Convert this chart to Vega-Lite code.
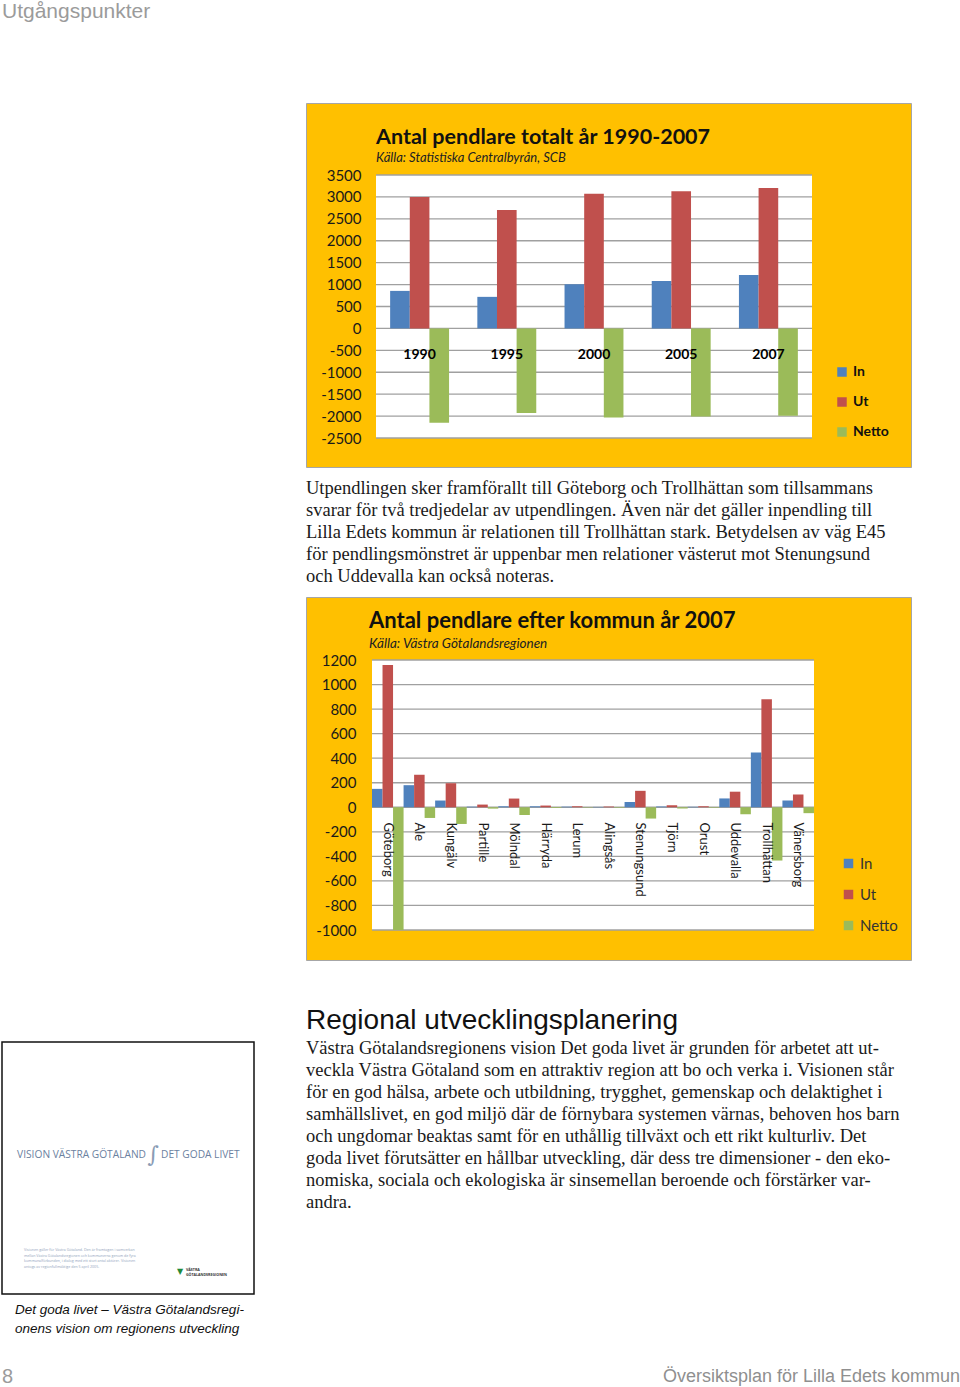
{
  "$schema": "https://vega.github.io/schema/vega-lite/v6.json",
  "background": "white",
  "padding": {"left": 1, "top": 0, "right": 0, "bottom": 0},
  "spacing": 0,
  "config": {"view": {"stroke": null}, "concat": {"spacing": 0}},
  "resolve": {"scale": {"color": "independent", "xOffset": "independent"}, "legend": {"color": "independent"}},
  "hconcat": [
    {
      "spacing": 0,
      "vconcat": [
        {
          "width": 303, "height": 24,
          "data": {"values": [{"line": 0, "text": "Utgångspunkter"}]},
          "mark": {"type": "text", "align": "left", "baseline": "middle", "font": "Liberation Sans", "fontSize": 21, "color": "#9b9b9b"},
          "encoding": {
            "y": {"field": "line", "type": "ordinal", "axis": null, "scale": {"type": "point", "padding": 0.5}},
            "x": {"datum": 0, "type": "quantitative", "scale": {"domain": [0, 1]}, "axis": null},
            "text": {"field": "text"}
          }
        },
        {"width": 303, "height": 1017, "data": {"values": []}, "mark": "text", "encoding": {"text": {"value": ""}}},
        {
          "width": 252, "height": 252,
          "view": {"stroke": "#111111", "strokeWidth": 1.5, "fill": "white"},
          "layer": [
            {
              "data": {"values": [{"text": "VISION VÄSTRA GÖTALAND"}]},
              "mark": {"type": "text", "align": "right", "baseline": "middle", "dx": 18, "dy": -13, "font": "Open Sans", "fontSize": 10.2, "color": "#6b81a0"},
              "encoding": {"text": {"field": "text"}}
            },
            {
              "data": {"values": [{"text": "DET GODA LIVET"}]},
              "mark": {"type": "text", "align": "left", "baseline": "middle", "dx": 33, "dy": -13, "font": "Open Sans", "fontSize": 10.2, "color": "#6b81a0"},
              "encoding": {"text": {"field": "text"}}
            },
            {
              "data": {"values": [{"text": "∫"}]},
              "mark": {"type": "text", "align": "center", "baseline": "middle", "dx": 25, "dy": -13, "font": "DejaVu Serif", "fontSize": 22, "fontWeight": 200, "color": "#8a9cb5"},
              "encoding": {"text": {"field": "text"}}
            },
            {
              "data": {"values": [{"lines": ["Visionen gäller för Västra Götaland. Den är framtagen i samverkan", "mellan Västra Götalandsregionen och kommunerna genom de fyra", "kommunalförbunden, i dialog med ett stort antal aktörer. Visionen", "antogs av regionfullmäktige den 5 april 2005."]}]},
              "mark": {"type": "text", "align": "left", "baseline": "top", "dx": -104, "dy": 80, "font": "Open Sans", "fontSize": 3.6, "lineHeight": 5.5, "color": "#8fa2bb"},
              "encoding": {"text": {"field": "lines"}}
            },
            {
              "data": {"values": [{"text": "▼"}]},
              "mark": {"type": "text", "align": "left", "baseline": "middle", "dx": 49, "dy": 104, "font": "DejaVu Sans", "fontSize": 8, "color": "#1f8a3a"},
              "encoding": {"text": {"field": "text"}}
            },
            {
              "data": {"values": [{"lines": ["VÄSTRA", "GÖTALANDSREGIONEN"]}]},
              "mark": {"type": "text", "align": "left", "baseline": "top", "dx": 58, "dy": 100, "font": "Open Sans", "fontSize": 3.6, "fontWeight": "bold", "lineHeight": 4.5, "color": "#333333"},
              "encoding": {"text": {"field": "lines"}}
            }
          ]
        },
        {"width": 303, "height": 5, "data": {"values": []}, "mark": "text", "encoding": {"text": {"value": ""}}},
        {
          "width": 303, "height": 38,
          "data": {"values": [{"line": 0, "text": "Det goda livet – Västra Götalandsregi-"}, {"line": 1, "text": "onens vision om regionens utveckling"}]},
          "mark": {"type": "text", "align": "left", "baseline": "middle", "dx": 13, "font": "Liberation Sans", "fontSize": 13.5, "fontStyle": "italic", "color": "#111111"},
          "encoding": {
            "y": {"field": "line", "type": "ordinal", "axis": null, "scale": {"type": "point", "padding": 0.5}},
            "x": {"datum": 0, "type": "quantitative", "scale": {"domain": [0, 1]}, "axis": null},
            "text": {"field": "text"}
          }
        },
        {"width": 303, "height": 28, "data": {"values": []}, "mark": "text", "encoding": {"text": {"value": ""}}},
        {
          "width": 303, "height": 22,
          "data": {"values": [{"line": 0, "text": "8"}]},
          "mark": {"type": "text", "align": "left", "baseline": "middle", "font": "Liberation Sans", "fontSize": 20, "color": "#9b9b9b"},
          "encoding": {
            "y": {"field": "line", "type": "ordinal", "axis": null, "scale": {"type": "point", "padding": 0.5}},
            "x": {"datum": 0, "type": "quantitative", "scale": {"domain": [0, 1]}, "axis": null},
            "text": {"field": "text"}
          }
        }
      ]
    },
    {
      "spacing": 0,
      "resolve": {"scale": {"color": "independent", "xOffset": "independent"}, "legend": {"color": "independent"}},
      "vconcat": [
        {"width": 605, "height": 101.5, "data": {"values": []}, "mark": "text", "encoding": {"text": {"value": ""}}},
        {
          "width": 605, "height": 364,
          "view": {"fill": "#FFC000", "stroke": "#a6a6a6", "strokeWidth": 1},
          "title": {"text": "Antal pendlare totalt år 1990-2007", "subtitle": "Källa: Statistiska Centralbyrån, SCB", "anchor": "start", "frame": "group", "dx": 70, "offset": -62, "font": "Lato", "fontSize": 21.5, "fontWeight": "bold", "color": "#111111", "subtitleFont": "Lato", "subtitleFontSize": 13, "subtitleFontStyle": "italic", "subtitleColor": "#222222", "subtitlePadding": 4},
          "resolve": {"scale": {"x": "independent"}},
          "layer": [
            {
              "data": {"values": [{}]},
              "mark": {"type": "rect", "fill": "white"},
              "encoding": {
                "x": {"datum": 0, "type": "quantitative", "scale": {"domain": [0, 1], "range": [70, 506]}, "axis": null},
                "x2": {"datum": 1},
                "y": {"datum": -2500, "type": "quantitative", "scale": {"domain": [-2500, 3500], "range": [335, 72], "nice": false}, "axis": {"offset": -70, "values": [-2500, -2000, -1500, -1000, -500, 0, 500, 1000, 1500, 2000, 2500, 3000, 3500], "labelExpr": "'' + datum.value", "grid": false, "domain": false, "ticks": false, "labelPadding": 15, "labelFont": "Lato", "labelFontSize": 15, "labelColor": "#1a1a1a", "title": null}},
                "y2": {"datum": 3500}
              }
            },
            {
              "data": {"values": [{"v": -2500}, {"v": -2000}, {"v": -1500}, {"v": -1000}, {"v": -500}, {"v": 0}, {"v": 500}, {"v": 1000}, {"v": 1500}, {"v": 2000}, {"v": 2500}, {"v": 3000}, {"v": 3500}]},
              "mark": {"type": "rule", "color": "#a0a0a0", "strokeWidth": 1.3},
              "encoding": {
                "x": {"datum": 0, "type": "quantitative", "scale": {"domain": [0, 1], "range": [70, 506]}, "axis": null},
                "x2": {"datum": 1},
                "y": {"field": "v", "type": "quantitative", "scale": {"domain": [-2500, 3500], "range": [335, 72], "nice": false}, "axis": {"offset": -70, "values": [-2500, -2000, -1500, -1000, -500, 0, 500, 1000, 1500, 2000, 2500, 3000, 3500], "labelExpr": "'' + datum.value", "grid": false, "domain": false, "ticks": false, "labelPadding": 15, "labelFont": "Lato", "labelFontSize": 15, "labelColor": "#1a1a1a", "title": null}}
              }
            },
            {
              "data": {"values": [
                {"year": "1990", "series": "In", "value": 856}, {"year": "1990", "series": "Ut", "value": 3000}, {"year": "1990", "series": "Netto", "value": -2150},
                {"year": "1995", "series": "In", "value": 720}, {"year": "1995", "series": "Ut", "value": 2700}, {"year": "1995", "series": "Netto", "value": -1930},
                {"year": "2000", "series": "In", "value": 1008}, {"year": "2000", "series": "Ut", "value": 3070}, {"year": "2000", "series": "Netto", "value": -2030},
                {"year": "2005", "series": "In", "value": 1083}, {"year": "2005", "series": "Ut", "value": 3130}, {"year": "2005", "series": "Netto", "value": -2010},
                {"year": "2007", "series": "In", "value": 1220}, {"year": "2007", "series": "Ut", "value": 3205}, {"year": "2007", "series": "Netto", "value": -1990}
              ]},
              "mark": {"type": "bar"},
              "encoding": {
                "x": {"field": "year", "type": "nominal", "sort": null, "scale": {"range": [70, 506], "paddingInner": 0, "paddingOuter": 0}, "axis": {"orient": "bottom", "offset": -139, "domain": false, "ticks": false, "grid": false, "labelAngle": 0, "labelPadding": 19, "labelFont": "Lato", "labelFontSize": 14, "labelFontWeight": "bold", "labelColor": "#000000", "title": null, "zindex": 1}},
                "xOffset": {"field": "series", "type": "nominal", "sort": ["In", "Ut", "Netto"], "scale": {"range": [0, 87.2], "paddingInner": 0, "paddingOuter": 0.72}},
                "y": {"field": "value", "type": "quantitative", "scale": {"domain": [-2500, 3500], "range": [335, 72], "nice": false}, "axis": {"offset": -70, "values": [-2500, -2000, -1500, -1000, -500, 0, 500, 1000, 1500, 2000, 2500, 3000, 3500], "labelExpr": "'' + datum.value", "grid": false, "domain": false, "ticks": false, "labelPadding": 15, "labelFont": "Lato", "labelFontSize": 15, "labelColor": "#1a1a1a", "title": null}},
                "color": {"field": "series", "type": "nominal", "sort": ["In", "Ut", "Netto"], "scale": {"domain": ["In", "Ut", "Netto"], "range": ["#4F81BD", "#C0504D", "#9BBB59"]}, "legend": {"title": null, "orient": "none", "direction": "vertical", "legendX": 529, "legendY": 262, "symbolType": "square", "symbolSize": 90, "symbolStrokeWidth": 0, "labelFont": "Lato", "labelFontSize": 14, "labelFontWeight": "bold", "labelColor": "#111111", "rowPadding": 16, "labelOffset": 4, "padding": 0}}
              }
            }
          ]
        },
        {"width": 605, "height": 9, "data": {"values": []}, "mark": "text", "encoding": {"text": {"value": ""}}},
        {
          "width": 605, "height": 110,
          "data": {"values": [
            {"line": 0, "text": "Utpendlingen sker framförallt till Göteborg och Trollhättan som tillsammans"},
            {"line": 1, "text": "svarar för två tredjedelar av utpendlingen. Även när det gäller inpendling till"},
            {"line": 2, "text": "Lilla Edets kommun är relationen till Trollhättan stark. Betydelsen av väg E45"},
            {"line": 3, "text": "för pendlingsmönstret är uppenbar men relationer västerut mot Stenungsund"},
            {"line": 4, "text": "och Uddevalla kan också noteras."}
          ]},
          "mark": {"type": "text", "align": "left", "baseline": "middle", "font": "Liberation Serif", "fontSize": 18.5, "color": "#1a1a1a"},
          "encoding": {
            "y": {"field": "line", "type": "ordinal", "axis": null, "scale": {"type": "point", "padding": 0.5}},
            "x": {"datum": 0, "type": "quantitative", "scale": {"domain": [0, 1]}, "axis": null},
            "text": {"field": "text"}
          }
        },
        {"width": 605, "height": 9, "data": {"values": []}, "mark": "text", "encoding": {"text": {"value": ""}}},
        {
          "width": 605, "height": 363,
          "view": {"fill": "#FFC000", "stroke": "#a6a6a6", "strokeWidth": 1},
          "title": {"text": "Antal pendlare efter kommun år 2007", "subtitle": "Källa: Västra Götalandsregionen", "anchor": "start", "frame": "group", "dx": 63, "offset": -54, "font": "Lato", "fontSize": 22, "fontWeight": "bold", "color": "#111111", "subtitleFont": "Lato", "subtitleFontSize": 13.5, "subtitleFontStyle": "italic", "subtitleColor": "#222222", "subtitlePadding": 4},
          "resolve": {"scale": {"x": "independent"}},
          "layer": [
            {
              "data": {"values": [{}]},
              "mark": {"type": "rect", "fill": "white"},
              "encoding": {
                "x": {"datum": 0, "type": "quantitative", "scale": {"domain": [0, 1], "range": [66, 508]}, "axis": null},
                "x2": {"datum": 1},
                "y": {"datum": -1000, "type": "quantitative", "scale": {"domain": [-1000, 1200], "range": [333, 63], "nice": false}, "axis": {"offset": -66, "values": [-1000, -800, -600, -400, -200, 0, 200, 400, 600, 800, 1000, 1200], "labelExpr": "'' + datum.value", "grid": false, "domain": false, "ticks": false, "labelPadding": 16, "labelFont": "Lato", "labelFontSize": 15, "labelColor": "#1a1a1a", "title": null}},
                "y2": {"datum": 1200}
              }
            },
            {
              "data": {"values": [{"v": -1000}, {"v": -800}, {"v": -600}, {"v": -400}, {"v": -200}, {"v": 0}, {"v": 200}, {"v": 400}, {"v": 600}, {"v": 800}, {"v": 1000}, {"v": 1200}]},
              "mark": {"type": "rule", "color": "#a0a0a0", "strokeWidth": 1.3},
              "encoding": {
                "x": {"datum": 0, "type": "quantitative", "scale": {"domain": [0, 1], "range": [66, 508]}, "axis": null},
                "x2": {"datum": 1},
                "y": {"field": "v", "type": "quantitative", "scale": {"domain": [-1000, 1200], "range": [333, 63], "nice": false}, "axis": {"offset": -66, "values": [-1000, -800, -600, -400, -200, 0, 200, 400, 600, 800, 1000, 1200], "labelExpr": "'' + datum.value", "grid": false, "domain": false, "ticks": false, "labelPadding": 16, "labelFont": "Lato", "labelFontSize": 15, "labelColor": "#1a1a1a", "title": null}}
              }
            },
            {
              "data": {"values": [
                {"kommun": "Göteborg", "series": "In", "value": 150}, {"kommun": "Göteborg", "series": "Ut", "value": 1160}, {"kommun": "Göteborg", "series": "Netto", "value": -1000},
                {"kommun": "Ale", "series": "In", "value": 180}, {"kommun": "Ale", "series": "Ut", "value": 265}, {"kommun": "Ale", "series": "Netto", "value": -87},
                {"kommun": "Kungälv", "series": "In", "value": 55}, {"kommun": "Kungälv", "series": "Ut", "value": 196}, {"kommun": "Kungälv", "series": "Netto", "value": -136},
                {"kommun": "Partille", "series": "In", "value": 5}, {"kommun": "Partille", "series": "Ut", "value": 22}, {"kommun": "Partille", "series": "Netto", "value": -11},
                {"kommun": "Mölndal", "series": "In", "value": 8}, {"kommun": "Mölndal", "series": "Ut", "value": 71}, {"kommun": "Mölndal", "series": "Netto", "value": -63},
                {"kommun": "Härryda", "series": "In", "value": 8}, {"kommun": "Härryda", "series": "Ut", "value": 14}, {"kommun": "Härryda", "series": "Netto", "value": -6},
                {"kommun": "Lerum", "series": "In", "value": 5}, {"kommun": "Lerum", "series": "Ut", "value": 8}, {"kommun": "Lerum", "series": "Netto", "value": -3},
                {"kommun": "Alingsås", "series": "In", "value": 3}, {"kommun": "Alingsås", "series": "Ut", "value": 6}, {"kommun": "Alingsås", "series": "Netto", "value": -3},
                {"kommun": "Stenungsund", "series": "In", "value": 42}, {"kommun": "Stenungsund", "series": "Ut", "value": 134}, {"kommun": "Stenungsund", "series": "Netto", "value": -92},
                {"kommun": "Tjörn", "series": "In", "value": 6}, {"kommun": "Tjörn", "series": "Ut", "value": 16}, {"kommun": "Tjörn", "series": "Netto", "value": -10},
                {"kommun": "Orust", "series": "In", "value": 4}, {"kommun": "Orust", "series": "Ut", "value": 8}, {"kommun": "Orust", "series": "Netto", "value": -4},
                {"kommun": "Uddevalla", "series": "In", "value": 72}, {"kommun": "Uddevalla", "series": "Ut", "value": 127}, {"kommun": "Uddevalla", "series": "Netto", "value": -57},
                {"kommun": "Trollhättan", "series": "In", "value": 447}, {"kommun": "Trollhättan", "series": "Ut", "value": 881}, {"kommun": "Trollhättan", "series": "Netto", "value": -434},
                {"kommun": "Vänersborg", "series": "In", "value": 55}, {"kommun": "Vänersborg", "series": "Ut", "value": 105}, {"kommun": "Vänersborg", "series": "Netto", "value": -48}
              ]},
              "mark": {"type": "bar"},
              "encoding": {
                "x": {"field": "kommun", "type": "nominal", "sort": null, "scale": {"range": [66, 508], "paddingInner": 0, "paddingOuter": 0}, "axis": {"orient": "bottom", "offset": -153, "domain": false, "ticks": false, "grid": false, "labelAngle": 90, "labelAlign": "left", "labelBaseline": "middle", "labelPadding": 15, "labelOverlap": false, "labelLimit": 200, "labelFont": "Lato", "labelFontSize": 13, "labelColor": "#1a1a1a", "title": null, "zindex": 1}},
                "xOffset": {"field": "series", "type": "nominal", "sort": ["In", "Ut", "Netto"], "scale": {"range": [0, 31.571], "paddingInner": 0, "paddingOuter": 0}},
                "y": {"field": "value", "type": "quantitative", "scale": {"domain": [-1000, 1200], "range": [333, 63], "nice": false}, "axis": {"offset": -66, "values": [-1000, -800, -600, -400, -200, 0, 200, 400, 600, 800, 1000, 1200], "labelExpr": "'' + datum.value", "grid": false, "domain": false, "ticks": false, "labelPadding": 16, "labelFont": "Lato", "labelFontSize": 15, "labelColor": "#1a1a1a", "title": null}},
                "color": {"field": "series", "type": "nominal", "sort": ["In", "Ut", "Netto"], "scale": {"domain": ["In", "Ut", "Netto"], "range": ["#4F81BD", "#C0504D", "#9BBB59"]}, "legend": {"title": null, "orient": "none", "direction": "vertical", "legendX": 535, "legendY": 259, "symbolType": "square", "symbolSize": 90, "symbolStrokeWidth": 0, "labelFont": "Lato", "labelFontSize": 15, "labelColor": "#333333", "rowPadding": 15, "labelOffset": 4, "padding": 0}}
              }
            }
          ]
        },
        {"width": 605, "height": 45, "data": {"values": []}, "mark": "text", "encoding": {"text": {"value": ""}}},
        {
          "width": 605, "height": 30,
          "data": {"values": [{"line": 0, "text": "Regional utvecklingsplanering"}]},
          "mark": {"type": "text", "align": "left", "baseline": "middle", "font": "Liberation Sans", "fontSize": 28, "color": "#111111"},
          "encoding": {
            "y": {"field": "line", "type": "ordinal", "axis": null, "scale": {"type": "point", "padding": 0.5}},
            "x": {"datum": 0, "type": "quantitative", "scale": {"domain": [0, 1]}, "axis": null},
            "text": {"field": "text"}
          }
        },
        {"width": 605, "height": 0.5, "data": {"values": []}, "mark": "text", "encoding": {"text": {"value": ""}}},
        {
          "width": 605, "height": 176,
          "data": {"values": [
            {"line": 0, "text": "Västra Götalandsregionens vision Det goda livet är grunden för arbetet att ut-"},
            {"line": 1, "text": "veckla Västra Götaland som en attraktiv region att bo och verka i. Visionen står"},
            {"line": 2, "text": "för en god hälsa, arbete och utbildning, trygghet, gemenskap och delaktighet i"},
            {"line": 3, "text": "samhällslivet, en god miljö där de förnybara systemen värnas, behoven hos barn"},
            {"line": 4, "text": "och ungdomar beaktas samt för en uthållig tillväxt och ett rikt kulturliv. Det"},
            {"line": 5, "text": "goda livet förutsätter en hållbar utveckling, där dess tre dimensioner - den eko-"},
            {"line": 6, "text": "nomiska, sociala och ekologiska är sinsemellan beroende och förstärker var-"},
            {"line": 7, "text": "andra."}
          ]},
          "mark": {"type": "text", "align": "left", "baseline": "middle", "font": "Liberation Serif", "fontSize": 18.5, "color": "#1a1a1a"},
          "encoding": {
            "y": {"field": "line", "type": "ordinal", "axis": null, "scale": {"type": "point", "padding": 0.5}},
            "x": {"datum": 0, "type": "quantitative", "scale": {"domain": [0, 1]}, "axis": null},
            "text": {"field": "text"}
          }
        },
        {"width": 605, "height": 153, "data": {"values": []}, "mark": "text", "encoding": {"text": {"value": ""}}},
        {
          "width": 654, "height": 22,
          "data": {"values": [{"line": 0, "text": "Översiktsplan för Lilla Edets kommun"}]},
          "mark": {"type": "text", "align": "right", "baseline": "middle", "font": "Liberation Sans", "fontSize": 18, "color": "#8f8f8f"},
          "encoding": {
            "y": {"field": "line", "type": "ordinal", "axis": null, "scale": {"type": "point", "padding": 0.5}},
            "x": {"datum": 1, "type": "quantitative", "scale": {"domain": [0, 1]}, "axis": null},
            "text": {"field": "text"}
          }
        }
      ]
    }
  ]
}
